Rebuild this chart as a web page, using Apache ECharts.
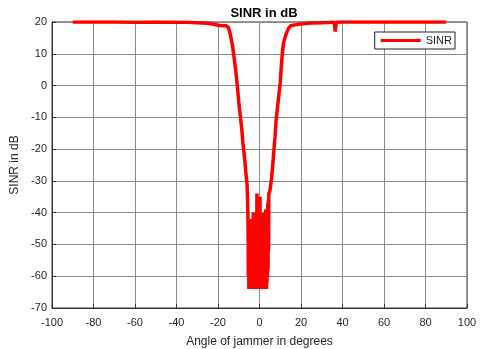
<!DOCTYPE html>
<html>
<head>
<meta charset="utf-8">
<script src="https://cdn.jsdelivr.net/npm/echarts@6/dist/echarts.min.js"></script>
<style>
  html, body { margin: 0; padding: 0; background: #fff; }
  #chart { width: 483px; height: 349px; }
</style>
</head>
<body>
<div id="chart"></div>
<script>
// jammer angle (deg) and SINR (dB)
const angles = [
  -90, -80, -70, -60, -50, -40, -35, -30, -25, -22, -20, -18, -16, -15, -14, -13,
  -12.5, -12, -11.5, -11, -10.5, -10, -9.5, -9, -8.5, -8, -7.5, -7, -6.5, -6, -5.75,
  -5.5, -5.375, -5.25, -5.125, -5, -4.875, -4.75, -4.625, -4.5, -4.375, -4.25, -4.125,
  -4, -3.875, -3.75, -3.625, -3.5, -3.375, -3.25, -3.125, -3, -2.875, -2.75, -2.625,
  -2.5, -2.375, -2.25, -2.125, -2, -1.875, -1.75, -1.625, -1.5, -1.375, -1.25, -1.125,
  -1, -0.875, -0.75, -0.625, -0.5, -0.375, -0.25, -0.125, 0, 0.125, 0.25, 0.375,
  0.5, 0.625, 0.75, 0.875, 1, 1.125, 1.25, 1.375, 1.5, 1.625, 1.75, 1.875,
  2, 2.125, 2.25, 2.375, 2.5, 2.625, 2.75, 2.875, 3, 3.125, 3.25, 3.375,
  3.5, 3.625, 3.75, 3.875, 4, 4.125, 4.25, 4.375, 4.5,
  5, 5.5, 6, 6.5, 7, 7.5, 8, 8.5, 9, 9.5, 10, 10.5, 11, 11.5, 12, 13, 14, 15, 17,
  19, 22, 25, 30, 35, 36, 36.5, 37, 40, 50, 60, 70, 80, 90
];
const sinr = [
  20, 20, 20, 19.9, 20, 19.9, 19.9, 19.8, 19.6, 19.3, 19.0, 18.9, 18.8, 18.3, 16.0, 12.5,
  10.0, 7.5, 5.0, 2.0, -1.5, -5, -8, -11, -14, -18, -21, -24, -28, -31, -36,
  -45, -60, -48, -64, -50, -63, -44, -62, -47, -64, -42, -61,
  -50, -64, -46, -63, -43, -64, -52, -62, -40, -64, -49, -63,
  -45, -64, -55, -61, -44, -64, -48, -62, -40, -63, -34, -60,
  -46, -64, -50, -63, -42, -64, -47, -62, -38, -61, -35, -64,
  -45, -63, -52, -64, -41, -62, -48, -64, -44, -63, -50, -64,
  -40, -60, -47, -63, -43, -64, -51, -62, -39, -63, -46, -64,
  -42, -62, -48, -60, -37, -58, -36, -52, -34,
  -33, -31, -28, -24, -20, -16, -11, -8, -5, -2, 1, 6, 10, 13, 14.5, 16.5, 18, 18.8, 19.1,
  19.3, 19.5, 19.7, 19.8, 19.9, 19.9, 17, 19.9, 20, 20, 20, 20, 20, 20
];
const seriesName = 'SINR';

const points = angles.map((a, i) => [a, sinr[i]]);
const font = '"Liberation Sans", Arial, sans-serif';
const gridColor = '#8a8a8a';

const chart = echarts.init(document.getElementById('chart'));
chart.setOption({
  animation: false,
  backgroundColor: '#fff',
  title: {
    text: 'SINR in dB',
    left: 259, top: 2, textAlign: 'center',
    textStyle: { fontFamily: font, fontSize: 13, fontWeight: 'bold', color: '#000' }
  },
  legend: {
    data: [seriesName],
    right: 28, top: 32,
    orient: 'vertical',
    backgroundColor: '#fff',
    borderColor: '#222', borderWidth: 1, borderRadius: 0,
    padding: [3, 3, 3, 6],
    itemWidth: 40, itemHeight: 3, itemGap: 0,
    icon: 'rect',
    textStyle: { fontFamily: font, fontSize: 11, color: '#222' }
  },
  grid: {
    left: 52, right: 16, top: 22, bottom: 41,
    outerBoundsMode: 'none',
    show: true, borderColor: '#333', borderWidth: 1, backgroundColor: 'transparent'
  },
  xAxis: {
    type: 'value', min: -100, max: 100, interval: 20,
    name: 'Angle of jammer in degrees', nameLocation: 'middle', nameGap: 28,
    nameTextStyle: { fontFamily: font, fontSize: 12, color: '#262626' },
    axisLine: { show: true, onZero: false, lineStyle: { color: '#333' } },
    axisTick: { show: true, inside: true, length: 4, lineStyle: { color: '#333' } },
    axisLabel: { fontFamily: font, fontSize: 11, color: '#262626', margin: 9 },
    splitLine: { show: true, lineStyle: { color: gridColor, width: 1 } }
  },
  yAxis: {
    type: 'value', min: -70, max: 20, interval: 10,
    name: 'SINR in dB', nameLocation: 'middle', nameGap: 30,
    nameTextStyle: { fontFamily: font, fontSize: 12, color: '#262626' },
    axisLine: { show: true, onZero: false, lineStyle: { color: '#333' } },
    axisTick: { show: true, inside: true, length: 4, lineStyle: { color: '#333' } },
    axisLabel: { fontFamily: font, fontSize: 11, color: '#262626', margin: 5 },
    splitLine: { show: true, lineStyle: { color: gridColor, width: 1 } }
  },
  series: [{
    name: seriesName,
    type: 'line',
    data: points,
    showSymbol: false,
    symbol: 'none',
    color: '#ff0000',
    lineStyle: { color: '#ff0000', width: 3.5 }
  }]
});
</script>
</body>
</html>
